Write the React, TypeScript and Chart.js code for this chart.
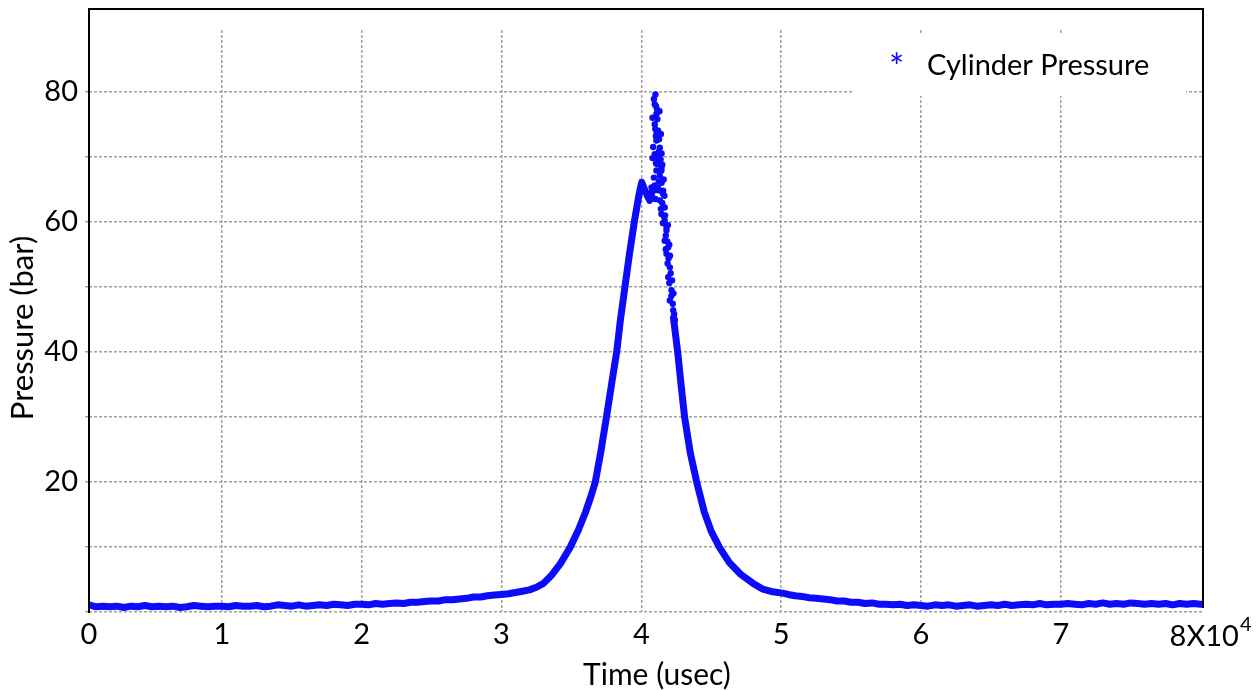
import React, { useEffect, useRef } from "react";
import { Chart, registerables } from "chart.js";

Chart.register(...registerables);

// ---- data (time in usec, pressure in bar) ----
const riseTime = [
  500, 1000, 1500, 2000, 2500, 3000, 3500, 4000, 4500, 5000, 5500, 6000, 6500, 7000, 7500,
  8000, 8500, 9000, 9500, 10000, 10500, 11000, 11500, 12000, 12500, 13000, 13500, 14000,
  14500, 15000, 15500, 16000, 16500, 17000, 17500, 18000, 18500, 19000, 19500, 20000,
  20500, 21000, 21500, 22000, 22500, 23000, 23500, 24000, 24500, 25000, 25500, 26000,
  26500, 27000, 27500, 28000, 28500, 29000, 29500, 30000, 30500, 31000, 31500, 32000,
  32500, 33000, 33600, 34200, 34900, 35500, 36000, 36400, 36700, 37100, 37500, 37900,
  38240, 38510, 38830, 39150, 39500, 39820, 40030, 40300, 40600, 40800,
];
const risePressure = [
  1.1, 0.8, 0.9, 0.8, 0.9, 0.7, 0.9, 0.8, 1.0, 0.8, 0.9, 0.8, 0.9, 0.7, 0.8,
  1.0, 0.9, 0.8, 0.9, 0.9, 0.8, 1.0, 0.9, 0.9, 1.0, 0.8, 0.9, 1.1,
  1.0, 0.9, 1.1, 0.9, 1.0, 1.1, 1.0, 1.2, 1.1, 1.0, 1.2, 1.2,
  1.1, 1.3, 1.2, 1.3, 1.4, 1.3, 1.5, 1.5, 1.6, 1.7, 1.7, 1.9,
  1.9, 2.0, 2.1, 2.3, 2.3, 2.5, 2.6, 2.7, 2.8, 3.0, 3.2, 3.4,
  3.8, 4.4, 5.7, 7.4, 9.9, 12.6, 15.3, 17.8, 19.9, 24.6, 29.9, 35.4,
  40.0, 45.0, 50.0, 55.0, 60.0, 64.0, 66.1, 64.6, 63.3, 64.8,
];
const fallTime = [
  42300, 42600, 42850, 43100, 43500, 43970, 44500, 45000, 45600, 46300, 47100,
  48000, 48700, 49400, 50100, 50500, 51000, 51500, 52000, 52500, 53000, 53500, 54000,
  54500, 55000, 55500, 56000, 56500, 57000, 57500, 58000, 58500, 59000, 59500, 60000,
  60500, 61000, 61500, 62000, 62500, 63000, 63500, 64000, 64500, 65000, 65500, 66000,
  66500, 67000, 67500, 68000, 68500, 69000, 69500, 70000, 70500, 71000, 71500, 72000,
  72500, 73000, 73500, 74000, 74500, 75000, 75500, 76000, 76500, 77000, 77500, 78000,
  78500, 79000, 79500, 80000,
];
const fallPressure = [
  45.2, 40.0, 34.8, 29.9, 24.5, 19.9, 15.4, 12.4, 9.9, 7.6, 5.8,
  4.4, 3.5, 3.1, 2.9, 2.7, 2.5, 2.4, 2.2, 2.1, 2.0, 1.9, 1.7,
  1.7, 1.5, 1.5, 1.3, 1.4, 1.2, 1.2, 1.1, 1.2, 1.0, 1.1, 1.0,
  0.9, 1.1, 1.0, 1.1, 0.9, 1.0, 1.1, 0.9, 1.0, 1.1, 1.0, 1.2,
  1.0, 1.1, 1.2, 1.1, 1.3, 1.1, 1.2, 1.2, 1.3, 1.2, 1.1, 1.3,
  1.2, 1.4, 1.2, 1.3, 1.2, 1.4, 1.3, 1.2, 1.3, 1.2, 1.3, 1.1,
  1.3, 1.2, 1.3, 1.2,
];
const peakTime = [
  41010, 40960, 41080, 40960, 41200, 41080, 41320, 40960, 41200, 41440, 41080, 41320,
  40730, 40960, 41320, 41560, 41320, 41670, 41440, 41670, 41800, 41670, 41920, 41800,
  40900, 41130, 41040, 41270, 41130, 40900, 41440, 41560, 41800, 42040, 41920, 42160,
  42040, 42280, 42400, 41050, 41150, 41000, 41100, 41250, 41150, 41050, 41380, 41250,
  41450, 41100, 41500, 41400, 41600, 41550, 41750, 41850, 41750, 41950, 41880, 42100,
  42000, 42150, 42250, 42350, 40800, 41300, 41400, 40850, 41450, 41500, 40800, 41600,
  41650, 41700, 41900, 42000, 42050, 42200, 42300, 41200, 41000,
];
const peakPressure = [
  79.6, 78.1, 76.6, 75.0, 74.0, 72.5, 71.4, 70.4, 69.4, 68.4, 67.9, 67.1,
  65.3, 65.6, 64.8, 64.3, 63.3, 62.2, 61.2, 60.2, 58.7, 57.1, 56.1, 55.1,
  78.9, 77.3, 73.2, 72.7, 68.9, 66.8, 67.9, 64.8, 59.2, 53.0, 51.5, 49.5,
  47.9, 46.4, 44.9, 77.8, 75.8, 74.3, 73.8, 70.8, 70.0, 69.0, 69.6, 66.2,
  66.0, 64.9, 62.9, 62.0, 60.9, 59.8, 57.9, 57.0, 55.8, 54.4, 53.6, 52.1,
  50.6, 48.6, 47.4, 45.8, 76.0, 77.0, 73.5, 71.5, 70.5, 68.8, 69.8, 66.5,
  64.0, 61.0, 59.5, 56.5, 54.8, 51.0, 49.0, 65.2, 63.5,
];
const xTickValues = [500, 10000, 20000, 30000, 40000, 50000, 60000, 70000, 80000];
const xTickLabels = ["0", "1", "2", "3", "4", "5", "6", "7", ""];
const xLastLabel = "8X10";
const xLastExponent = "4";
const yGridValues = [0, 10, 20, 30, 40, 50, 60, 70, 80];
const yTickLabels = [20, 40, 60, 80];
const legendLabel = "Cylinder Pressure";
const xTitle = "Time (usec)";
const yTitle = "Pressure (bar)";

const FONT = "Lato, 'Open Sans', sans-serif";
const BLUE = "rgb(12,12,250)";
const GRID = "#a0a0a0";

const toPts = (xs: number[], ys: number[]) => xs.map((x, i) => ({ x, y: ys[i] }));

const decorPlugin = {
  id: "decor",
  afterDraw(chart: any) {
    const ctx = chart.ctx;
    const xs = chart.scales.x;
    ctx.save();
    // legend box
    ctx.fillStyle = "#fff";
    ctx.fillRect(853, 33, 333, 63);
    ctx.fillStyle = BLUE;
    ctx.font = `36px ${FONT}`;
    ctx.textBaseline = "alphabetic";
    ctx.textAlign = "left";
    ctx.fillText("*", 889, 80);
    ctx.fillStyle = "#000";
    ctx.font = `29px ${FONT}`;
    ctx.fillText(legendLabel, 927, 75);
    // last x label with exponent
    const px = xs.getPixelForValue(80000);
    ctx.font = `29px ${FONT}`;
    ctx.fillText(xLastLabel, px - 31, 646);
    const w = ctx.measureText(xLastLabel).width;
    ctx.font = `20px ${FONT}`;
    ctx.fillText(xLastExponent, px - 31 + w + 1, 631);
    // axis titles
    ctx.font = `30px ${FONT}`;
    ctx.textAlign = "center";
    ctx.fillText(xTitle, 657, 685);
    ctx.save();
    ctx.translate(23, 328);
    ctx.rotate(-Math.PI / 2);
    ctx.font = `31px ${FONT}`;
    ctx.textBaseline = "middle";
    ctx.fillText(yTitle, 0, 0);
    ctx.restore();
    // frame
    ctx.strokeStyle = "#000";
    ctx.lineWidth = 2;
    ctx.beginPath();
    ctx.moveTo(89, 613);
    ctx.lineTo(89, 9);
    ctx.lineTo(1203, 9);
    ctx.lineTo(1203, 608);
    ctx.stroke();
    ctx.restore();
  },
};

export default function App() {
  const ref = useRef<HTMLCanvasElement>(null);
  useEffect(() => {
    if (!ref.current) return;
    const chart = new Chart(ref.current, {
      type: "scatter",
      data: {
        datasets: [
          {
            label: legendLabel,
            data: toPts(riseTime, risePressure),
            showLine: true,
            borderColor: BLUE,
            borderWidth: 7,
            pointRadius: 0,
            borderJoinStyle: "round",
            borderCapStyle: "round",
          },
          {
            label: legendLabel + " (b)",
            data: toPts(fallTime, fallPressure),
            showLine: true,
            borderColor: BLUE,
            borderWidth: 7,
            pointRadius: 0,
            borderJoinStyle: "round",
            borderCapStyle: "round",
          },
          {
            label: legendLabel + " (c)",
            data: toPts(peakTime, peakPressure),
            showLine: false,
            backgroundColor: BLUE,
            borderColor: BLUE,
            pointRadius: 3.2,
            borderWidth: 0,
          },
        ],
      },
      options: {
        animation: false,
        responsive: false,
        maintainAspectRatio: false,
        layout: { padding: { left: 0, top: 30, right: 53, bottom: 0 } },
        plugins: { legend: { display: false }, tooltip: { enabled: false } },
        scales: {
          x: {
            type: "linear",
            min: 500,
            max: 80170,
            afterFit: (s: any) => {
              s.height = 78;
            },
            afterBuildTicks: (s: any) => {
              s.ticks = xTickValues.map((v) => ({ value: v }));
            },
            ticks: {
              autoSkip: false,
              maxRotation: 0,
              padding: 5,
              color: "#000",
              font: { family: FONT, size: 29 },
              callback: (_v: any, i: number) => xTickLabels[i],
            },
            grid: {
              color: (c: any) => (c.tick && c.tick.value === 80000 ? "rgba(0,0,0,0)" : GRID),
              lineWidth: 1.5,
              drawTicks: false,
            },
            border: { display: false, dash: [3, 2] },
            title: { display: false },
          },
          y: {
            type: "linear",
            min: 0,
            max: 89.5,
            afterFit: (s: any) => {
              s.width = 89;
            },
            afterBuildTicks: (s: any) => {
              s.ticks = yGridValues.map((v) => ({ value: v }));
            },
            ticks: {
              padding: 7,
              color: "#000",
              font: { family: FONT, size: 29 },
              callback: (v: any) => (yTickLabels.includes(v) ? String(v) : ""),
            },
            grid: { color: GRID, lineWidth: 1.5, tickLength: 4 },
            border: { display: false, dash: [3, 2] },
            title: { display: false },
          },
        },
      },
      plugins: [decorPlugin],
    });
    return () => chart.destroy();
  }, []);
  return (
    <div style={{ position: "fixed", left: 0, top: 0, width: 1256, height: 690, background: "#fff" }}>
      <canvas ref={ref} width={1256} height={690} style={{ width: 1256, height: 690 }} />
    </div>
  );
}
